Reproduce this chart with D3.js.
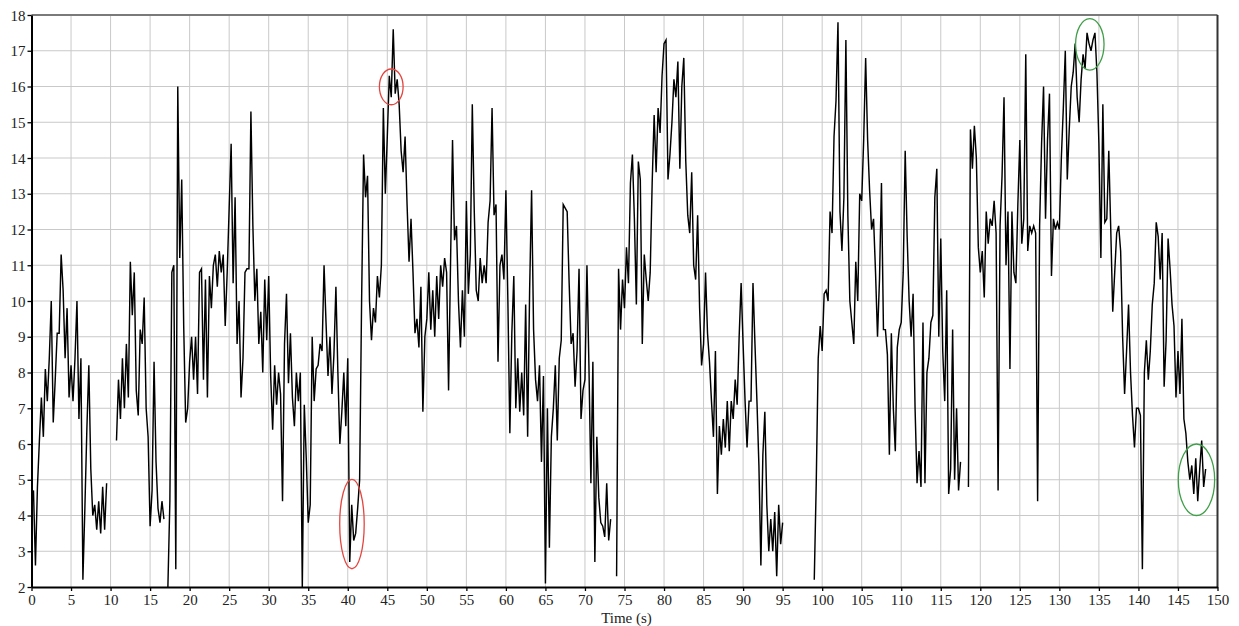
<!DOCTYPE html>
<html><head><meta charset="utf-8">
<script src="https://cdn.jsdelivr.net/npm/d3@7"></script>
<style>body{margin:0;background:#fff}svg{display:block}</style></head>
<body><svg id="c" width="1239" height="626"></svg>
<script>
// ---- data ----
const startTime = 0;
const sampleStep = 0.25; // seconds between samples
// one row per second (4 samples), null = no recording
const speed = [
 4.4, 4.7, 2.6, 4.8,
 6.1, 7.3, 6.2, 8.1,
 7.2, 8.4, 10.0, 6.6,
 7.8, 9.1, 9.1, 11.3,
 10.3, 8.4, 9.8, 7.3,
 8.2, 7.2, 8.4, 10.0,
 6.7, 8.4, 2.2, 4.2,
 6.4, 8.2, 5.3, 4.0,
 4.3, 3.6, 4.4, 3.5,
 4.8, 3.6, 4.9, null,
 null, null, null, 6.1,
 7.8, 6.7, 8.4, 7.0,
 8.8, 7.3, 11.1, 9.6,
 10.8, 7.5, 6.8, 9.2,
 8.8, 10.1, 7.0, 6.2,
 3.7, 4.7, 8.3, 5.5,
 4.2, 3.8, 4.4, 3.9,
 null, 2.0, 4.4, 10.8,
 11.0, 2.5, 16.0, 11.2,
 13.4, 9.3, 6.6, 7.0,
 8.3, 9.0, 7.8, 9.0,
 7.4, 10.8, 10.9, 7.8,
 10.6, 7.3, 10.7, 9.8,
 11.0, 11.3, 10.4, 11.4,
 10.8, 11.3, 9.3, 10.8,
 12.6, 14.4, 10.5, 12.9,
 8.8, 10.0, 7.3, 8.4,
 10.8, 10.9, 10.9, 15.3,
 12.1, 10.0, 10.9, 8.8,
 9.7, 8.0, 10.6, 8.9,
 10.7, 7.9, 6.4, 8.2,
 7.1, 8.0, 7.4, 4.4,
 8.8, 10.2, 7.7, 9.1,
 7.3, 6.5, 8.0, 7.2,
 8.0, 2.0, 7.1, 5.6,
 3.8, 4.3, 9.0, 7.2,
 8.1, 8.2, 8.8, 8.6,
 11.0, 9.4, 7.9, 9.0,
 7.4, 8.5, 10.4, 8.0,
 6.0, 6.9, 8.0, 6.5,
 8.4, 2.7, 4.3, 3.3,
 3.5, 4.2, 5.0, 10.0,
 14.1, 12.9, 13.5, 10.0,
 8.9, 9.8, 9.4, 10.7,
 10.1, 11.0, 15.4, 13.0,
 14.6, 16.3, 15.7, 17.6,
 15.8, 16.2, 15.5, 14.2,
 13.6, 14.6, 12.7, 11.1,
 12.3, 10.8, 9.1, 9.5,
 8.7, 10.4, 6.9, 9.0,
 9.5, 10.8, 9.2, 10.3,
 9.0, 10.7, 9.5, 11.0,
 10.4, 11.2, 10.8, 7.5,
 11.1, 14.5, 11.7, 12.1,
 10.0, 8.7, 10.3, 9.0,
 12.8, 10.2, 11.3, 15.5,
 12.5, 10.3, 10.0, 11.2,
 10.5, 11.0, 10.5, 12.2,
 12.8, 15.4, 12.4, 12.7,
 8.3, 11.0, 11.3, 10.6,
 13.1, 10.0, 6.3, 9.1,
 10.7, 7.0, 8.4, 6.9,
 8.0, 6.8, 9.9, 6.2,
 10.3, 13.1, 9.2, 7.8,
 7.2, 8.2, 5.5, 7.9,
 2.1, 7.0, 3.1, 6.2,
 7.0, 8.2, 6.1, 8.4,
 8.9, 12.7, 12.6, 12.5,
 10.5, 8.8, 9.1, 7.6,
 8.6, 10.9, 6.7, 7.5,
 7.8, 11.0, 8.2, 4.9,
 8.3, 2.7, 6.2, 4.5,
 3.8, 3.7, 3.4, 4.9,
 3.3, 3.9, null, null,
 2.3, 10.9, 9.2, 10.6,
 9.8, 11.5, 10.5, 13.3,
 14.1, 12.3, 9.9, 13.9,
 13.4, 8.8, 11.3, 10.6,
 10.0, 10.8, 13.3, 15.2,
 13.6, 15.4, 14.7, 16.3,
 17.2, 17.3, 13.4, 14.1,
 15.0, 16.2, 15.7, 16.7,
 13.7, 16.0, 16.8, 13.9,
 12.4, 11.9, 13.6, 11.0,
 10.6, 12.4, 9.8, 8.2,
 8.8, 10.8, 9.1, 8.3,
 7.2, 6.2, 8.6, 4.6,
 6.5, 5.7, 6.7, 5.9,
 7.2, 5.8, 7.2, 6.7,
 7.8, 7.1, 9.0, 10.5,
 8.8, 7.2, 5.9, 7.2,
 7.2, 10.5, 8.8, 7.2,
 5.4, 2.6, 5.7, 6.9,
 4.3, 3.0, 3.9, 3.0,
 4.1, 2.3, 4.3, 3.2,
 3.8, null, null, null,
 null, null, null, null,
 null, null, null, null,
 null, null, null, null,
 2.2, 4.9, 8.4, 9.3,
 8.6, 10.2, 10.3, 10.0,
 12.5, 11.9, 14.6, 15.6,
 17.8, 12.5, 11.4, 12.9,
 17.3, 12.4, 10.0, 9.4,
 8.8, 11.1, 10.0, 13.0,
 12.8, 14.5, 16.8, 14.5,
 13.1, 12.0, 12.3, 10.8,
 9.0, 10.6, 13.3, 9.2,
 9.2, 8.5, 5.7, 9.1,
 7.0, 5.8, 8.7, 9.2,
 9.4, 10.8, 14.2, 11.8,
 10.0, 9.0, 10.2, 7.0,
 4.9, 5.8, 4.8, 9.4,
 4.9, 8.0, 8.4, 9.4,
 9.6, 12.9, 13.7, 9.0,
 11.75, 8.6, 7.2, 10.3,
 4.6, 5.3, 9.2, 5.0,
 7.0, 4.7, 5.5, null,
 null, null, 4.8, 14.8,
 13.7, 14.9, 14.0, 11.5,
 10.8, 11.4, 10.1, 12.5,
 11.6, 12.3, 12.1, 12.8,
 11.9, 4.7, 12.1, 13.5,
 15.7, 11.0, 12.5, 8.1,
 12.5, 10.8, 10.5, 12.7,
 14.5, 11.6, 12.3, 16.9,
 11.4, 12.1, 11.9, 12.1,
 11.9, 4.4, 12.1, 14.4,
 16.0, 12.3, 14.5, 15.8,
 10.7, 12.3, 12.0, 12.2,
 12.0, 14.0, 15.4, 17.0,
 13.4, 14.8, 16.0, 16.4,
 17.2, 15.7, 15.0, 16.2,
 16.9, 16.5, 17.5, 17.2,
 17.0, 17.3, 17.5, 16.4,
 14.4, 11.2, 15.5, 12.2,
 12.3, 14.2, 12.0, 9.7,
 10.8, 11.9, 12.1, 11.4,
 9.0, 7.4, 8.6, 9.9,
 8.0, 6.8, 5.9, 7.0,
 7.0, 6.8, 2.5, 8.0,
 8.9, 7.8, 8.6, 9.9,
 10.5, 12.2, 11.8, 10.6,
 11.9, 7.6, 8.9, 11.75,
 10.9, 9.9, 9.3, 7.3,
 8.6, 7.4, 9.5, 6.7,
 6.3, 5.5, 5.0, 5.4,
 4.6, 5.6, 4.4, 5.3,
 6.1, 4.8, 5.3
];
const xTicks = [0,5,10,15,20,25,30,35,40,45,50,55,60,65,70,75,80,85,90,95,100,105,110,115,120,125,130,135,140,145,150];
const yTicks = [2,3,4,5,6,7,8,9,10,11,12,13,14,15,16,17,18];
const xLabel = "Time (s)";
// highlighted regions (centre time, centre value, half-width s, half-height)
const markGroup = ["red", "red", "green", "green"];
const markT  = [40.53, 45.5, 133.85, 147.34];
const markV  = [3.76, 15.99, 17.18, 5.0];
const markRT = [1.55, 1.5, 1.8, 2.3];
const markRV = [1.25, 0.5, 0.72, 1.0];

// ---- layout / style ----
const L = 31.5, R = 1217.5, T = 15, B = 587;
const groupColor = {red: "#e5453f", green: "#3f9f48"};
const font = "'Liberation Serif','Times New Roman',serif";

const svg = d3.select("#c");
const x = d3.scaleLinear().domain([0, 150]).range([L, R]);
const y = d3.scaleLinear().domain([2, 18]).range([B, T]);

// grid
svg.append("g").selectAll("line").data(xTicks.slice(1, -1)).join("line")
  .attr("x1", d => x(d)).attr("x2", d => x(d)).attr("y1", T).attr("y2", B)
  .attr("stroke", "#c9c9c9").attr("stroke-width", 1);
svg.append("g").selectAll("line").data(yTicks.slice(1, -1)).join("line")
  .attr("y1", d => y(d)).attr("y2", d => y(d)).attr("x1", L).attr("x2", R)
  .attr("stroke", "#c9c9c9").attr("stroke-width", 1);

// frame top/right
svg.append("line").attr("x1", L).attr("x2", R).attr("y1", T).attr("y2", T)
  .attr("stroke", "#7a7a7a").attr("stroke-width", 2);
svg.append("line").attr("x1", R).attr("x2", R).attr("y1", T).attr("y2", B)
  .attr("stroke", "#333").attr("stroke-width", 2);

// data line
const pts = speed.map((v, i) => ({t: startTime + i * sampleStep, v}));
svg.append("defs").append("clipPath").attr("id", "clip")
  .append("rect").attr("x", L).attr("y", T).attr("width", R - L).attr("height", B - T);
const line = d3.line().defined(d => d.v !== null).x(d => x(d.t)).y(d => y(d.v));
svg.append("path").datum(pts).attr("d", line).attr("clip-path", "url(#clip)")
  .attr("fill", "none").attr("stroke", "#000").attr("stroke-width", 1.45)
  .attr("stroke-linejoin", "miter");

// annotations
svg.append("g").selectAll("ellipse").data(markT).join("ellipse")
  .attr("cx", (d, i) => x(d)).attr("cy", (d, i) => y(markV[i]))
  .attr("rx", (d, i) => x(d + markRT[i]) - x(d))
  .attr("ry", (d, i) => y(markV[i] - markRV[i]) - y(markV[i]))
  .attr("fill", "none").attr("stroke", (d, i) => groupColor[markGroup[i]])
  .attr("stroke-width", 1.3);

// axes
const ax = svg.append("g").attr("transform", `translate(0,${B})`)
  .call(d3.axisBottom(x).tickValues(xTicks).tickSize(4).tickSizeOuter(0).tickPadding(3));
const ay = svg.append("g").attr("transform", `translate(${L},0)`)
  .call(d3.axisLeft(y).tickValues(yTicks).tickSize(4).tickSizeOuter(0).tickPadding(2));
[ax, ay].forEach(g => {
  g.select(".domain").attr("stroke", "#000").attr("stroke-width", 2);
  g.selectAll(".tick line").attr("stroke", "#000").attr("stroke-width", 1.3);
  g.selectAll(".tick text").attr("font-family", font).attr("font-size", 15).attr("fill", "#222");
});
ay.selectAll(".tick text").attr("dy", "0.34em");

svg.append("text").attr("x", (L + R) / 2 + 2).attr("y", 623)
  .attr("text-anchor", "middle").attr("font-family", font).attr("font-size", 15)
  .attr("fill", "#222").text(xLabel);
</script>
</body></html>
